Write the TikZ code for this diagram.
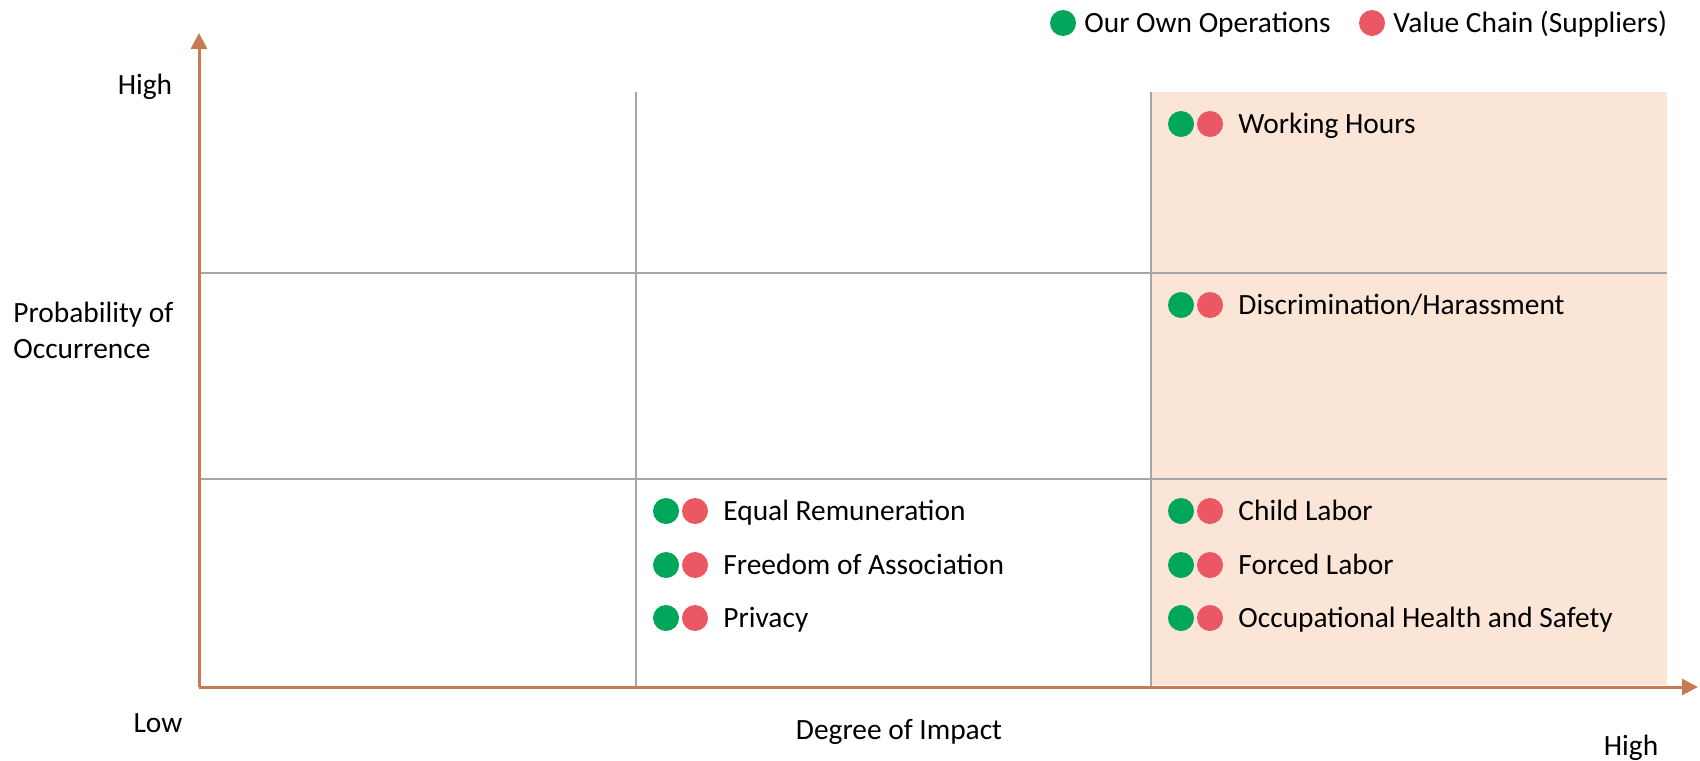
\documentclass[tikz,border=0pt]{standalone}
\usepackage{fontspec}
\setmainfont{Carlito}
\usetikzlibrary{arrows.meta}

\definecolor{axisbrown}{RGB}{200,123,83}
\definecolor{owngreen}{RGB}{0,166,90}
\definecolor{chainred}{RGB}{235,87,99}
\definecolor{highshade}{RGB}{251,229,214}
\definecolor{gridgray}{RGB}{166,166,166}

\tikzset{
  axisline/.style={draw=axisbrown, line width=1.5pt, -{Triangle[width=8pt,length=8pt]}},
  gridline/.style={draw=gridgray, line width=1pt},
  owndot/.style={circle, fill=owngreen, inner sep=0pt, minimum size=13pt},
  supdot/.style={circle, fill=chainred, inner sep=0pt, minimum size=13pt},
  itemtext/.style={inner sep=0pt, anchor=base west},
  axistext/.style={inner sep=0pt, anchor=base},
}

% green dot, red dot and label of one issue
\newcommand{\riskitem}[4]{%
  \node[owndot] (#1own) at (#2,#3) {};
  \node[supdot] (#1sup) at (#2+29,#3) {};
  \node[itemtext] (#1) at (#2+57,#3+9.5) {#4};
}

\begin{document}
\begin{tikzpicture}[x=0.5pt, y=-0.5pt, font=\fontsize{14.7}{18}\selectfont]
                \useasboundingbox (0,0) rectangle (1700,760);
                % high impact band
                \fill[highshade] (1151,92) rectangle (1667,685);
                % grid
                \coordinate (o) at (199,687);
                \coordinate (ytip) at (199,33);
                \coordinate (xtip) at (1698,687);
                \draw[gridline] (636,92)--(636,687);
                \draw[gridline] (1151,92)--(1151,687);
                \draw[gridline] (199,273)--(1667,273);
                \draw[gridline] (199,479)--(1667,479);
                % axes
                \draw[axisline] (o)--(ytip);
                \draw[axisline] (o)--(xtip);
                \node[axistext] (yhigh) at (145,94.5) {High};
                \node[inner sep=0pt, anchor=west, align=left] (ylabel) at (13,330) {Probability of\\Occurrence};
                \node[axistext] (low) at (158,732.5) {Low};
                \node[axistext] (xlabel) at (899,739.5) {Degree of Impact};
                \node[axistext] (xhigh) at (1631,755.5) {High};
                % legend
                \node[owndot] (legown) at (1063,23) {};
                \node[itemtext] (legowntext) at (1084,32.5) {Our Own Operations};
                \node[supdot] (legsup) at (1372,23) {};
                \node[itemtext] (legsuptext) at (1393,32.5) {Value Chain (Suppliers)};
                % issues
                \riskitem{hours}{1181}{124}{Working Hours}
                \riskitem{discr}{1181}{305}{Discrimination/Harassment}
                \riskitem{child}{1181}{511}{Child Labor}
                \riskitem{forced}{1181}{565}{Forced Labor}
                \riskitem{ohs}{1181}{618}{Occupational Health and Safety}
                \riskitem{equal}{666}{511}{Equal Remuneration}
                \riskitem{assoc}{666}{565}{Freedom of Association}
                \riskitem{privacy}{666}{618}{Privacy}
            \end{tikzpicture}
\end{document}
